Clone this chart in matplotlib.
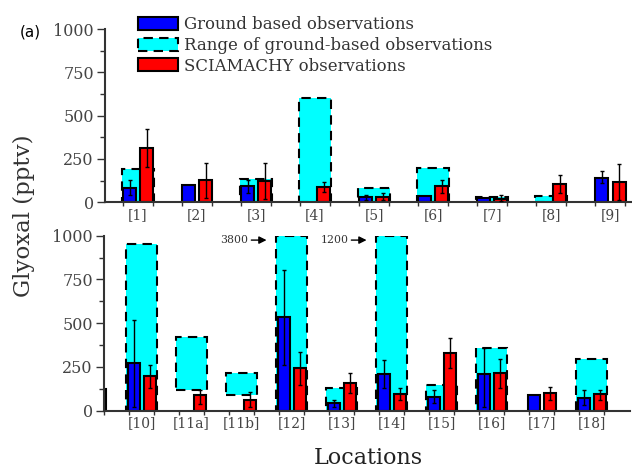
import matplotlib.pyplot as plt
import matplotlib.patches as mpatches
import numpy as np

nan = np.nan

# top panel: locations [1]-[9]
top_labels = ['[1]', '[2]', '[3]', '[4]', '[5]', '[6]', '[7]', '[8]', '[9]']
top_ground = [80, 98, 92, nan, 28, 35, 25, nan, 140]
top_ground_lo = [40, nan, 55, nan, 15, nan, nan, nan, 110]
top_ground_hi = [128, nan, 130, nan, 40, nan, nan, nan, 178]
top_range_lo = [0, nan, 0, 0, 0, 0, 0, 0, nan]
top_range_hi = [190, nan, 133, 600, 80, 198, 30, 35, nan]
top_scia = [315, 127, 121, 88, 31, 92, 17, 106, 116]
top_scia_lo = [205, 25, 20, 60, 15, 55, 5, 55, 12]
top_scia_hi = [422, 224, 227, 117, 52, 128, 42, 156, 220]

# bottom panel: locations [10]-[18] (first entry is the cut-off bar at the left edge)
bot_labels = ['', '[10]', '[11a]', '[11b]', '[12]', '[13]', '[14]', '[15]', '[16]', '[17]', '[18]']
bot_ground = [nan, 271, nan, nan, 537, 42, 210, 80, 210, 90, 75]
bot_ground_lo = [nan, 23, nan, nan, 261, 20, 128, 42, 23, nan, 33]
bot_ground_hi = [nan, 518, nan, nan, 804, 63, 290, 118, 356, nan, 116]
bot_range_lo = [nan, 0, 118, 90, 0, 0, 0, 0, 0, nan, 0]
bot_range_hi = [nan, 951, 423, 213, 3800, 128, 1200, 147, 356, nan, 295]
bot_scia = [125, 198, 90, 61, 242, 160, 94, 328, 213, 99, 94]
bot_scia_lo = [nan, 128, 40, 20, 147, 99, 63, 242, 128, 63, 61]
bot_scia_hi = [nan, 261, 118, 109, 337, 217, 132, 414, 293, 137, 118]

serif = 'DejaVu Serif'
grey = '#333333'
dash = (0, (4.5, 3))


def draw(ax, x, ground, g_lo, g_hi, r_lo, r_hi, scia, s_lo, s_hi,
         bw, boff, roff, cw, ymax=1000):
    x = np.asarray(x, float)
    r_lo = np.asarray(r_lo, float)
    r_hi = np.minimum(np.asarray(r_hi, float), ymax)
    ax.bar(x, r_hi - r_lo, bottom=r_lo, width=cw, color='cyan',
           edgecolor='black', linestyle=dash, linewidth=1.5, zorder=1)
    g = np.asarray(ground, float)
    s = np.asarray(scia, float)
    ax.bar(x + boff, g, width=bw, color='#0000ff', edgecolor='black',
           linewidth=1.5, zorder=2)
    ax.bar(x + roff, s, width=bw, color='#ff0000', edgecolor='black',
           linewidth=1.5, zorder=2)
    ge = [g - np.asarray(g_lo, float), np.asarray(g_hi, float) - g]
    se = [s - np.asarray(s_lo, float), np.asarray(s_hi, float) - s]
    ax.errorbar(x + boff, g, yerr=ge, fmt='none', ecolor='black',
                elinewidth=1.0, capsize=1.5, zorder=3)
    ax.errorbar(x + roff, s, yerr=se, fmt='none', ecolor='black',
                elinewidth=1.0, capsize=1.5, zorder=3)


def style(ax, x, labels, xlim):
    for s in ['top', 'right']:
        ax.spines[s].set_visible(False)
    for s in ['left', 'bottom']:
        ax.spines[s].set_color(grey)
        ax.spines[s].set_linewidth(1.5)
    ax.set_xticks(x)
    ax.set_xticklabels(labels, fontfamily=serif, fontsize=10, color='#444444')
    ax.set_xticks(np.concatenate([np.asarray(x) - 0.25, np.asarray(x) + 0.25]), minor=True)
    ax.tick_params(axis='x', which='major', length=0, pad=4)
    ax.tick_params(axis='x', which='minor', length=3, width=1, color=grey)
    ax.set_yticks([0, 250, 500, 750, 1000])
    ax.set_yticks([125, 375, 625, 875], minor=True)
    ax.tick_params(axis='y', which='major', length=6, width=1, color=grey,
                   labelsize=11.5, labelcolor='#444444', pad=2)
    ax.tick_params(axis='y', which='minor', length=3.5, width=1, color=grey)
    for t in ax.get_yticklabels():
        t.set_fontfamily(serif)
    ax.set_xlim(*xlim)
    ax.set_ylim(0, 1000)


fig = plt.figure(figsize=(6.32, 4.69), dpi=100)

ax1 = fig.add_axes([0.166, 0.569, 0.834, 0.369])
x1 = np.arange(len(top_labels))
draw(ax1, x1, top_ground, top_ground_lo, top_ground_hi, top_range_lo, top_range_hi,
     top_scia, top_scia_lo, top_scia_hi, bw=0.22, boff=-0.14, roff=0.15, cw=0.54)
style(ax1, x1, top_labels, (-0.56, 8.37))

ax2 = fig.add_axes([0.1646, 0.1243, 0.8324, 0.3731])
x2 = np.arange(len(bot_labels)) - 1
draw(ax2, x2, bot_ground, bot_ground_lo, bot_ground_hi, bot_range_lo, bot_range_hi,
     bot_scia, bot_scia_lo, bot_scia_hi, bw=0.24, boff=-0.15, roff=0.17, cw=0.62)
style(ax2, x2, bot_labels, (-0.75, 9.77))

# off-scale range maxima
for i, v in enumerate(bot_range_hi):
    if v > 1000:
        ax2.annotate('%d' % v, xy=(x2[i] - 0.5, 975), xytext=(x2[i] - 0.86, 975),
                     fontfamily=serif, fontsize=7.8, color='#333333',
                     ha='right', va='center',
                     arrowprops=dict(arrowstyle='-|>', color='black', lw=1,
                                     shrinkA=0, shrinkB=0, mutation_scale=11))

fig.text(0.038, 0.54, 'Glyoxal (pptv)', rotation=90, fontfamily=serif,
         fontsize=16.5, color='#333333', ha='center', va='center')
fig.text(0.582, 0.024, 'Locations', fontfamily=serif, fontsize=16,
         color='#222222', ha='center', va='center')
fig.text(0.032, 0.932, '(a)', fontsize=11, ha='left', va='center')

handles = [
    mpatches.Patch(facecolor='#0000ff', edgecolor='black', linewidth=1.5,
                   label='Ground based observations'),
    mpatches.Patch(facecolor='cyan', edgecolor='black', linewidth=1.5,
                   linestyle=dash, label='Range of ground-based observations'),
    mpatches.Patch(facecolor='#ff0000', edgecolor='black', linewidth=1.5,
                   label='SCIAMACHY observations'),
]
leg = fig.legend(handles=handles, loc='upper left', bbox_to_anchor=(0.2, 0.99),
                 frameon=False, prop={'family': serif, 'size': 11.9},
                 handlelength=2.4, handleheight=0.85, handletextpad=0.38,
                 labelspacing=0.22, borderpad=0.2)
for t in leg.get_texts():
    t.set_color('#333333')

fig.savefig('out.png', dpi=100)
